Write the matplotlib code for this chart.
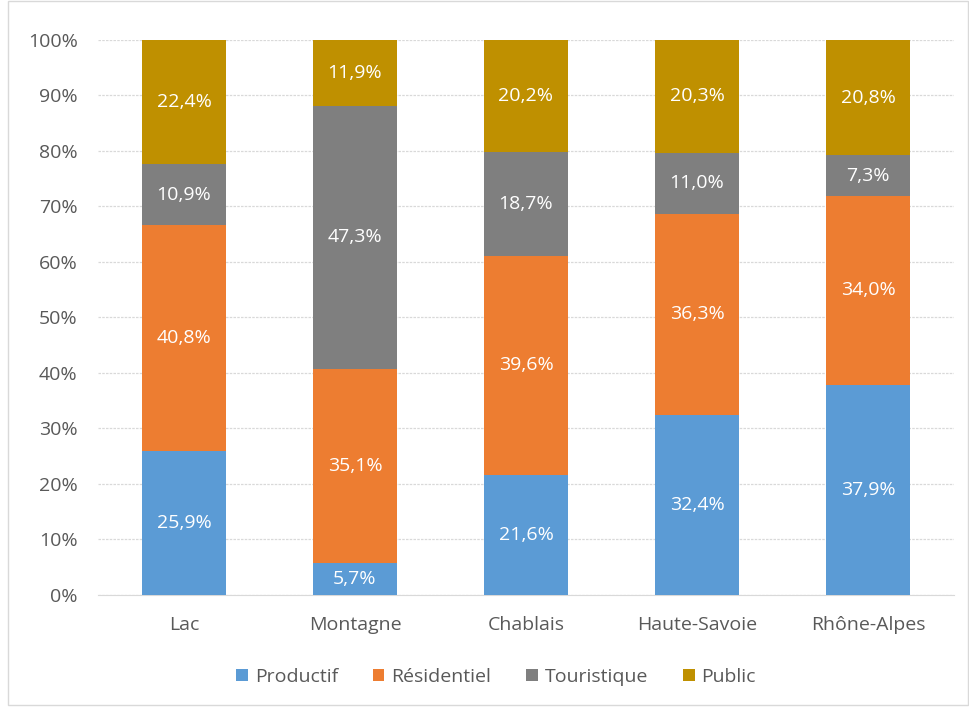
import numpy as np
import matplotlib.pyplot as plt
from matplotlib.patches import Rectangle

categories = ["Lac", "Montagne", "Chablais", "Haute-Savoie", "Rhône-Alpes"]
series = ["Productif", "Résidentiel", "Touristique", "Public"]
productif = [25.9, 5.7, 21.6, 32.4, 37.9]
residentiel = [40.8, 35.1, 39.6, 36.3, 34.0]
touristique = [10.9, 47.3, 18.7, 11.0, 7.3]
public = [22.4, 11.9, 20.2, 20.3, 20.8]
colors = ["#5B9BD5", "#ED7D31", "#7F7F7F", "#BF9000"]

plt.rcParams['font.family'] = ['Open Sans', 'DejaVu Sans']

data = np.array([productif, residentiel, touristique, public])
totals = data.sum(axis=0)
shares = data / totals * 100  # 100% empilé

fig = plt.figure(figsize=(9.7, 7.09), dpi=100)
ax = fig.add_axes([0.1015, 0.1608, 0.8815, 0.7828])
fig.patches.append(Rectangle((0.008, 0.005), 0.99, 0.993, transform=fig.transFigure,
                             fill=False, edgecolor="#D9D9D9", linewidth=1))

fs = 14
x = np.arange(len(categories))
bottom = np.zeros(len(categories))
for i, name in enumerate(series):
    ax.bar(x, shares[i], 0.49, bottom=bottom, color=colors[i], label=name, zorder=3)
    for j in range(len(categories)):
        label = f"{data[i][j]:.1f}%".replace(".", ",")
        ax.text(x[j], bottom[j] + shares[i][j] / 2, label, ha="center", va="center",
                color="white", fontsize=fs, zorder=4)
    bottom += shares[i]

ax.set_xlim(-0.5, len(categories) - 0.5)
ax.set_ylim(0, 100)
ax.set_yticks(np.arange(0, 101, 10))
ax.set_yticklabels([f"{v}%" for v in range(0, 101, 10)])
ax.set_xticks(x)
ax.set_xticklabels(categories)
ax.tick_params(axis="both", length=0, colors="#595959", labelsize=fs)
ax.tick_params(axis="x", pad=15)
ax.tick_params(axis="y", pad=15)
ax.yaxis.grid(True, color="#D9D9D9", linestyle=(0, (2, 1)), linewidth=0.9, zorder=0)
for s in ["top", "right", "left"]:
    ax.spines[s].set_visible(False)
ax.spines["bottom"].set_color("#D9D9D9")

ax.legend(loc="center", bbox_to_anchor=(0.465, -0.147), ncol=4, frameon=False,
          handlelength=0.6, handleheight=0.6, handletextpad=0.35, columnspacing=1.8,
          fontsize=fs, labelcolor="#595959")

fig.savefig("out.png", dpi=100)
